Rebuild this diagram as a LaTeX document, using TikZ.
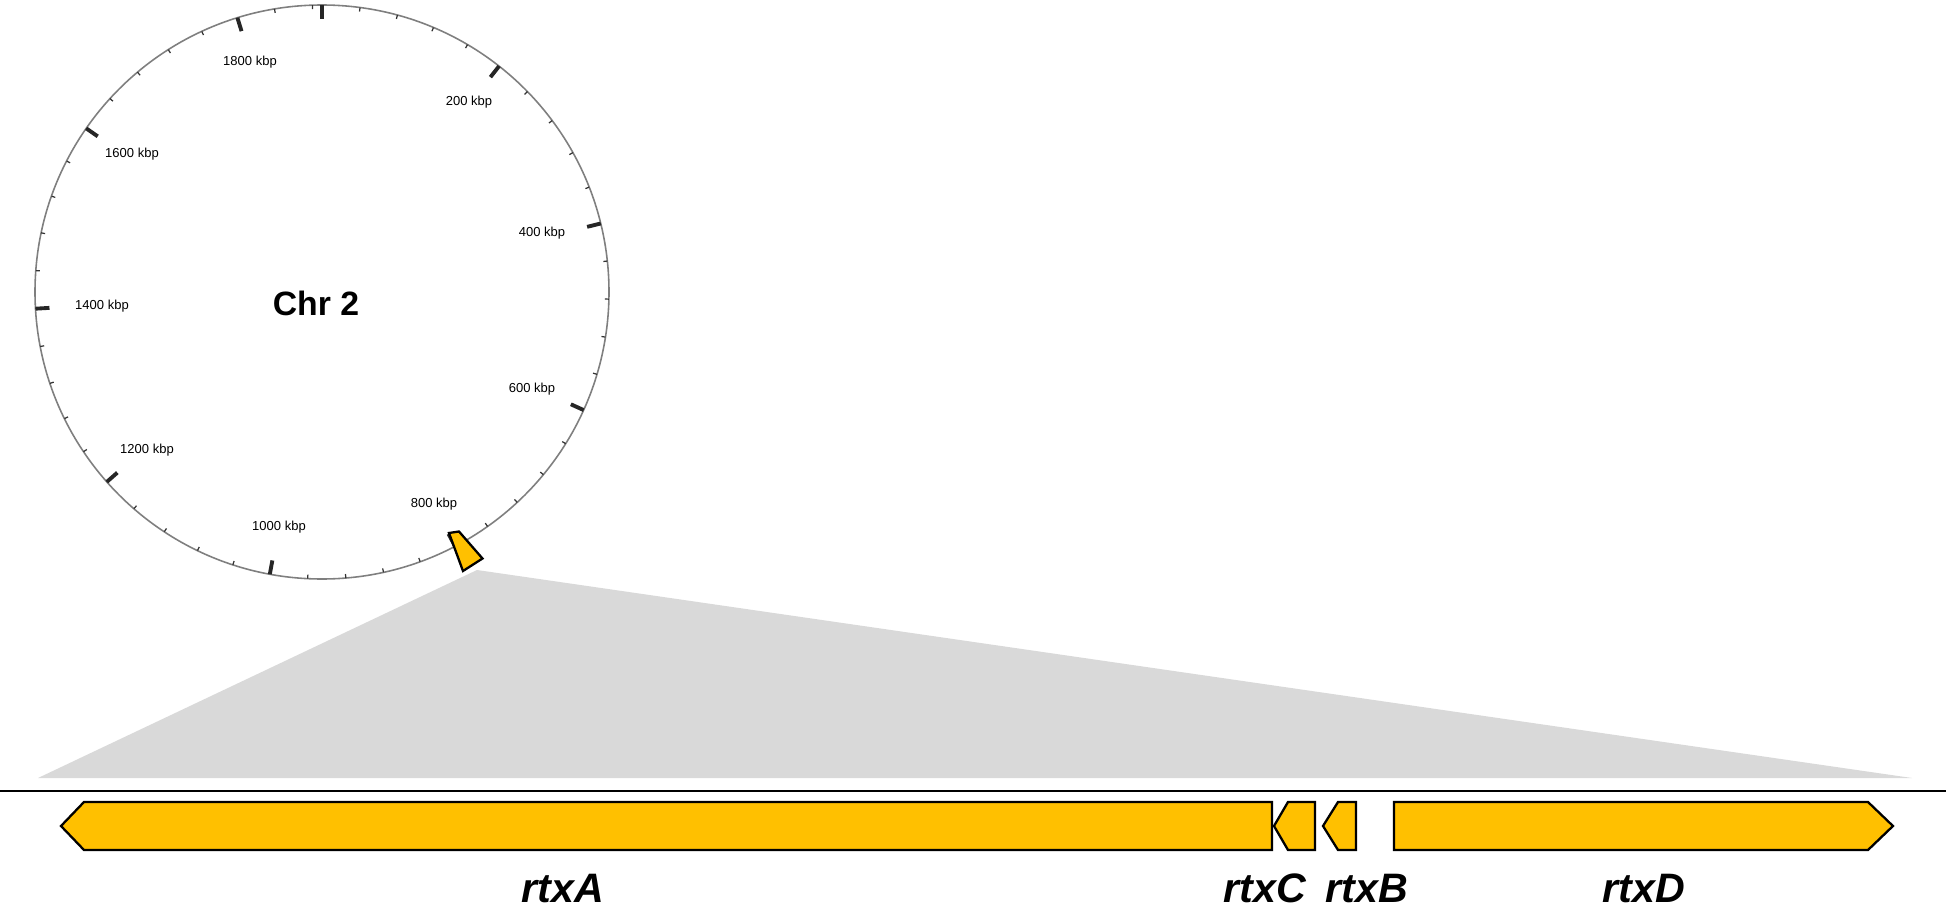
\documentclass[tikz,border=0pt]{standalone}
\usepackage{fontspec}
\setmainfont{Liberation Sans}
\usepackage{tikz}
\definecolor{geneyellow}{HTML}{FFC000}
\definecolor{zoomgray}{HTML}{D9D9D9}
\definecolor{chrgray}{HTML}{7F7F7F}
\tikzset{gene/.style={draw=black,fill=geneyellow,line width=0.65pt,line join=miter},
  chrline/.style={draw=chrgray,line width=0.45pt},
  majortick/.style={draw=black!85,line width=1.1pt},
  minortick/.style={draw=black!80,line width=0.35pt},
  kbp label/.style={font=\fontsize{3.7}{4}\selectfont,inner sep=0pt},
  gene label/.style={font=\fontsize{11.7}{12}\selectfont\bfseries\itshape,inner sep=0pt,anchor=base},}
\newcommand{\genel}[3]{\draw[gene] (#1,826) -- (#2,802) -- (#3,802) -- (#3,850) -- (#2,850) -- cycle;}
\newcommand{\gener}[3]{\draw[gene] (#1,802) -- (#2,802) -- (#3,826) -- (#2,850) -- (#1,850) -- cycle;}
\begin{document}
\begin{tikzpicture}[x=0.01cm,y=-0.01cm]
        \useasboundingbox (0,0) rectangle (1950,909);

        % zoom wedge
        \coordinate (apex) at (477,570);
        \coordinate (zoomL) at (38,778);
        \coordinate (zoomR) at (1912,778);
        \fill[zoomgray] (apex) -- (zoomL) -- (zoomR) -- cycle;

        % chromosome
        \begin{scope}[shift={(322,292)}]
            \draw[chrline] (0,0) circle (287);
            \foreach \k in {0,40,...,1880}{
                \pgfmathsetmacro\a{\k/1890*360-90}
                \draw[minortick] (\a:287) -- (\a:283);
            }
            \foreach \k in {0,200,...,1800}{
                \pgfmathsetmacro\a{\k/1890*360-90}
                \draw[majortick] (\a:287) -- (\a:273);
            }
            \node[font=\fontsize{9.6}{10}\selectfont\bfseries] (chr) at (-6,11) {Chr 2};
        \end{scope}

        \foreach \lab/\x/\y in {200/469/102,400/542/233,600/532/389,800/434/504,1000/279/527,1200/147/450,1400/102/306,1600/132/154,1800/250/62}
            \node[kbp label] (k\lab) at (\x,\y) {\lab\ kbp};

        % rtx locus on the chromosome
        \draw[gene] (449,533) -- (459,531.5) -- (482.5,558.5) -- (463,571) -- cycle;

        % locus track
        \coordinate (trackL) at (0,791);
        \coordinate (trackR) at (1946,791);
        \draw[line width=0.7pt] (trackL) -- (trackR);

        \genel{61}{84}{1272}
        \genel{1274}{1288}{1315}
        \genel{1323}{1338}{1356}
        \gener{1394}{1868}{1893}

        \node[gene label] (rtxA) at (563,902) {rtxA};
        \node[gene label] (rtxC) at (1265,902) {rtxC};
        \node[gene label] (rtxB) at (1367,902) {rtxB};
        \node[gene label] (rtxD) at (1644,902) {rtxD};
    \end{tikzpicture}
\end{document}
